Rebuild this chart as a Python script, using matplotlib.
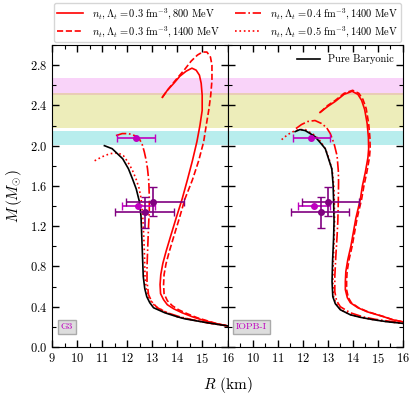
import matplotlib
matplotlib.use("Agg")
import matplotlib.pyplot as plt
from matplotlib.ticker import MultipleLocator

plt.rcParams['font.family'] = 'serif'
plt.rcParams['font.serif'] = ['cmr10']
plt.rcParams['mathtext.fontset'] = 'cm'
plt.rcParams['axes.formatter.use_mathtext'] = True

# ---------------- data ----------------
# G3 (left panel)
g3_base_R = [11.09, 11.4, 11.82, 12.05, 12.21, 12.36, 12.48, 12.55, 12.58, 12.61, 12.64, 12.7, 12.78, 12.9, 13.05, 13.5, 14.0, 14.3, 15.1, 15.6, 16.0]
g3_base_M = [2.00, 1.97, 1.87, 1.77, 1.67, 1.57, 1.45, 1.30, 1.10, 0.90, 0.70, 0.58, 0.50, 0.44, 0.39, 0.34, 0.30, 0.28, 0.245, 0.225, 0.21]

g3_a_R = [13.40, 13.6, 13.86, 14.1, 14.35, 14.58, 14.75, 14.88, 14.95, 14.99, 14.99, 14.9, 14.78, 14.6, 14.4, 14.19, 13.95, 13.73, 13.55, 13.42, 13.34, 13.31, 13.33, 13.45, 13.6, 13.85, 14.19, 14.6, 14.98, 15.5, 16.0]
g3_a_M = [2.48, 2.55, 2.62, 2.69, 2.74, 2.77, 2.75, 2.70, 2.62, 2.50, 2.35, 2.20, 2.04, 1.85, 1.66, 1.47, 1.28, 1.10, 0.95, 0.83, 0.72, 0.62, 0.53, 0.47, 0.42, 0.38, 0.34, 0.30, 0.27, 0.235, 0.21]

g3_b_R = [13.40, 13.6, 13.86, 14.06, 14.3, 14.55, 14.8, 15.0, 15.18, 15.32, 15.38, 15.38, 15.33, 15.25, 15.15, 15.05, 14.85, 14.6, 14.3, 14.08, 13.86, 13.68, 13.55, 13.47, 13.45, 13.47, 13.6, 13.8, 14.05, 14.4, 14.8, 15.2, 15.6, 16.0]
g3_b_M = [2.48, 2.55, 2.63, 2.69, 2.76, 2.84, 2.90, 2.93, 2.93, 2.88, 2.80, 2.65, 2.50, 2.35, 2.20, 2.04, 1.85, 1.66, 1.47, 1.28, 1.10, 0.95, 0.83, 0.72, 0.62, 0.53, 0.46, 0.41, 0.37, 0.33, 0.29, 0.26, 0.23, 0.21]

g3_c_R = [11.55, 11.8, 12.05, 12.3, 12.48, 12.6, 12.68, 12.76, 12.81, 12.86, 12.88, 12.88, 12.85, 12.82, 12.79, 12.79, 12.85, 12.98, 13.2, 13.6, 14.1, 14.6, 15.2, 16.0]
g3_c_M = [2.10, 2.12, 2.12, 2.10, 2.07, 2.01, 1.94, 1.85, 1.77, 1.65, 1.50, 1.35, 1.20, 1.00, 0.80, 0.65, 0.52, 0.45, 0.39, 0.34, 0.30, 0.27, 0.24, 0.21]

g3_d_R = [10.70, 11.0, 11.3, 11.62, 11.85, 12.02, 12.2, 12.35, 12.47, 12.55, 12.62, 12.66, 12.69, 12.71, 12.76, 12.85, 12.98, 13.15, 13.55, 14.0, 14.4, 15.1, 15.6, 16.0]
g3_d_M = [1.85, 1.89, 1.92, 1.93, 1.90, 1.84, 1.76, 1.67, 1.58, 1.48, 1.30, 1.10, 0.90, 0.70, 0.58, 0.50, 0.44, 0.40, 0.345, 0.30, 0.28, 0.245, 0.225, 0.21]

# IOPB-I (right panel)
io_base_R = [11.7, 11.89, 12.1, 12.3, 12.49, 12.7, 12.9, 13.03, 13.16, 13.21, 13.23, 13.25, 13.23, 13.19, 13.17, 13.2, 13.3, 13.5, 13.9, 14.3, 14.84, 15.4, 16.0]
io_base_M = [2.14, 2.16, 2.15, 2.12, 2.09, 2.03, 1.97, 1.87, 1.77, 1.62, 1.47, 1.25, 1.07, 0.85, 0.65, 0.50, 0.43, 0.37, 0.32, 0.295, 0.27, 0.25, 0.235]

io_a_R = [12.69, 13.0, 13.3, 13.65, 13.97, 14.2, 14.35, 14.47, 14.57, 14.62, 14.63, 14.6, 14.5, 14.38, 14.3, 14.12, 13.92, 13.8, 13.72, 13.7, 13.7, 13.78, 13.9, 14.2, 14.57, 15.24, 15.6, 16.0]
io_a_M = [2.33, 2.39, 2.44, 2.51, 2.54, 2.51, 2.45, 2.36, 2.22, 2.08, 1.97, 1.88, 1.74, 1.60, 1.47, 1.28, 1.00, 0.87, 0.75, 0.65, 0.57, 0.49, 0.44, 0.39, 0.35, 0.30, 0.27, 0.25]

io_b_R = [12.69, 13.0, 13.3, 13.65, 13.99, 14.24, 14.4, 14.53, 14.63, 14.68, 14.69, 14.66, 14.56, 14.44, 14.35, 14.17, 13.97, 13.85, 13.77, 13.75, 13.75, 13.82, 13.94, 14.23, 14.6, 15.26, 15.6, 16.0]
io_b_M = [2.33, 2.40, 2.45, 2.52, 2.55, 2.52, 2.46, 2.37, 2.22, 2.08, 1.97, 1.88, 1.74, 1.60, 1.47, 1.28, 1.00, 0.87, 0.75, 0.65, 0.57, 0.49, 0.44, 0.39, 0.35, 0.30, 0.27, 0.25]

io_c_R = [11.73, 11.95, 12.2, 12.49, 12.75, 12.95, 13.1, 13.25, 13.37, 13.42, 13.43, 13.42, 13.4, 13.37, 13.32, 13.28, 13.28, 13.35, 13.5, 13.9, 14.4, 14.9, 15.5, 16.0]
io_c_M = [2.17, 2.21, 2.24, 2.25, 2.22, 2.18, 2.12, 2.02, 1.90, 1.75, 1.64, 1.45, 1.25, 1.10, 0.90, 0.70, 0.55, 0.46, 0.40, 0.34, 0.30, 0.275, 0.255, 0.24]

io_d_R = [11.16, 11.4, 11.62, 11.85, 12.1, 12.3, 12.5, 12.72, 12.92, 13.06, 13.18, 13.24, 13.26, 13.27, 13.25, 13.22, 13.2, 13.23, 13.33, 13.52, 13.92, 14.3, 14.86, 15.4, 16.0]
io_d_M = [2.06, 2.11, 2.14, 2.16, 2.16, 2.13, 2.10, 2.04, 1.96, 1.86, 1.75, 1.60, 1.45, 1.25, 1.05, 0.85, 0.65, 0.50, 0.43, 0.37, 0.32, 0.295, 0.27, 0.25, 0.235]

# observational constraints
band_lo = [2.50, 2.18, 2.01]
band_hi = [2.67, 2.52, 2.15]
band_colors = ['violet', 'y', 'c']
band_alpha = [0.35, 0.27, 0.28]

obs_R = [12.35, 12.45, 13.02, 12.71]
obs_M = [2.08, 1.40, 1.44, 1.34]
obs_R_lo = [0.75, 0.65, 1.06, 1.19]
obs_R_hi = [0.75, 0.65, 1.24, 1.14]
obs_M_lo = [0.0, 0.0, 0.14, 0.16]
obs_M_hi = [0.0, 0.0, 0.15, 0.15]
obs_colors = ['m', 'm', 'purple', 'purple']

labels = [r'$n_t,\Lambda_t=0.3\ \mathrm{fm}^{-3},800\ \mathrm{MeV}$',
          r'$n_t,\Lambda_t=0.3\ \mathrm{fm}^{-3},1400\ \mathrm{MeV}$',
          r'$n_t,\Lambda_t=0.4\ \mathrm{fm}^{-3},1400\ \mathrm{MeV}$',
          r'$n_t,\Lambda_t=0.5\ \mathrm{fm}^{-3},1400\ \mathrm{MeV}$']
styles = ['-', '--', '-.', ':']
panel_names = ['G3', 'IOPB-I']

# ---------------- plot ----------------
fig = plt.figure(figsize=(4.15, 3.99), dpi=100)
W = 0.4229
axL = fig.add_axes([0.1253, 0.1303, W, 0.7569])
axR = fig.add_axes([0.1253 + W, 0.1303, W, 0.7569], sharey=axL)

panels = [
    (axL, g3_base_R, g3_base_M, [(g3_a_R, g3_a_M), (g3_b_R, g3_b_M), (g3_c_R, g3_c_M), (g3_d_R, g3_d_M)]),
    (axR, io_base_R, io_base_M, [(io_a_R, io_a_M), (io_b_R, io_b_M), (io_c_R, io_c_M), (io_d_R, io_d_M)]),
]

handles = []
for k, (ax, bR, bM, reds) in enumerate(panels):
    for lo, hi, c, a in zip(band_lo, band_hi, band_colors, band_alpha):
        ax.axhspan(lo, hi, color=c, alpha=a, lw=0)
    hs = []
    for (r, m), ls, lab in zip(reds, styles, labels):
        h, = ax.plot(r, m, color='red', ls=ls, lw=1.2, label=lab, zorder=3)
        hs.append(h)
    if k == 0:
        handles = hs
    hb, = ax.plot(bR, bM, color='black', lw=1.2, zorder=4, label='Pure Baryonic')
    for i in range(len(obs_R)):
        ax.errorbar(obs_R[i], obs_M[i],
                    xerr=[[obs_R_lo[i]], [obs_R_hi[i]]],
                    yerr=[[obs_M_lo[i]], [obs_M_hi[i]]] if obs_M_hi[i] > 0 else None,
                    fmt='o', ms=4, color=obs_colors[i], capsize=3, lw=1.2, zorder=5)
    ax.text(0.05, 0.06, panel_names[k], transform=ax.transAxes, color='m', fontsize=7,
            bbox=dict(facecolor='#dddddd', edgecolor='#aaaaaa', boxstyle='square,pad=0.3'))
    ax.set_xlim(9, 16)
    ax.set_ylim(0, 3.0)
    ax.xaxis.set_major_locator(MultipleLocator(1))
    ax.xaxis.set_minor_locator(MultipleLocator(0.5))
    ax.yaxis.set_major_locator(MultipleLocator(0.4))
    ax.yaxis.set_minor_locator(MultipleLocator(0.2))
    ax.tick_params(which='both', direction='in', top=True, right=True, labelsize=9)
    ax.tick_params(which='major', length=5, width=1)
    ax.tick_params(which='minor', length=3, width=0.8)
    if k == 1:
        ax.legend(handles=[hb], loc='upper right', frameon=False, fontsize=7.5, handlelength=2.2)
        plt.setp(ax.get_yticklabels(), visible=False)
        ax.set_xticks([10, 11, 12, 13, 14, 15, 16])

axL.set_ylabel(r'$M\,(M_{\odot})$', fontsize=11)
fig.text(0.1253 + W, 0.025, r'$R$ (km)', ha='center', fontsize=11)

fig.legend(handles=handles, labels=labels, loc='upper center', ncol=2,
           bbox_to_anchor=(0.1253 + W, 1.0), fontsize=7.5, frameon=True,
           handlelength=2.5, columnspacing=1.5, borderpad=0.3, labelspacing=0.25,
           borderaxespad=0.3)

fig.savefig('out.png', dpi=100)
